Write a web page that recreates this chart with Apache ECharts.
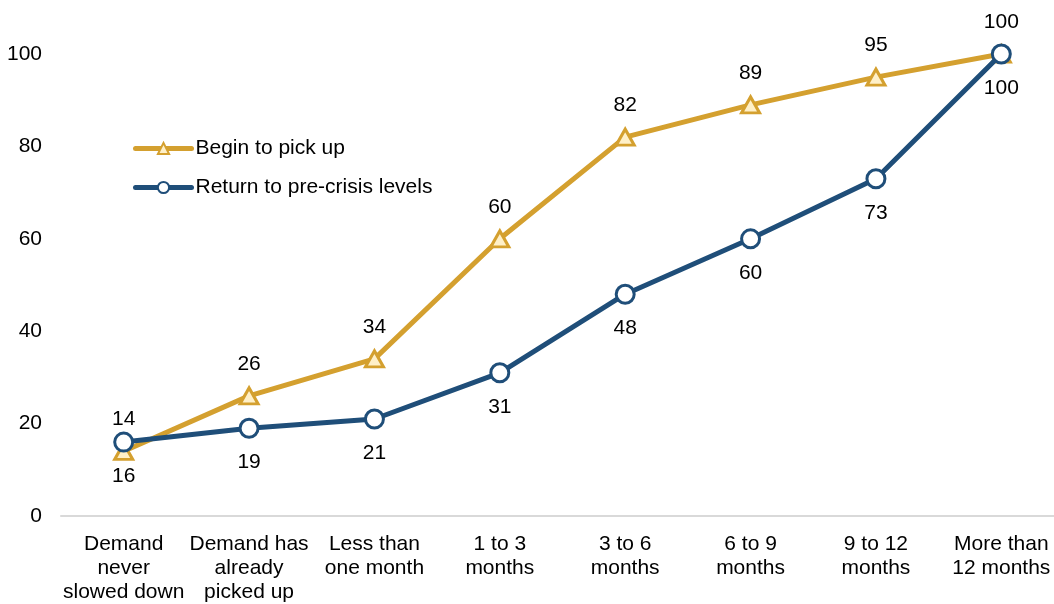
<!DOCTYPE html>
<html>
<head>
<meta charset="utf-8">
<script src="https://cdn.jsdelivr.net/npm/echarts@6/dist/echarts.min.js"></script>
<style>
  html, body { margin: 0; padding: 0; background: #ffffff; overflow: hidden; }
  /* plot area runs slightly past the right edge of the window */
  #chart { width: 1064px; height: 604px; }
</style>
</head>
<body>
<div id="chart"></div>
<script>
// Expected timing of demand recovery (share of respondents, cumulative %)
const categories = [
  'Demand\nnever\nslowed down',
  'Demand has\nalready\npicked up',
  'Less than\none month',
  '1 to 3\nmonths',
  '3 to 6\nmonths',
  '6 to 9\nmonths',
  '9 to 12\nmonths',
  'More than\n12 months'
];
const beginToPickUp = [14, 26, 34, 60, 82, 89, 95, 100];
const returnToPreCrisis = [16, 19, 21, 31, 48, 60, 73, 100];
const yTicks = [0, 20, 40, 60, 80, 100];

const GOLD = '#D4A02F';
const BLUE = '#1F4E79';
const FONT = 'Liberation Sans, Arial, sans-serif';
const FS = 21;

const chart = echarts.init(document.getElementById('chart'));
chart.setOption({
  animation: false,
  backgroundColor: '#ffffff',
  textStyle: { fontFamily: FONT },
  grid: { left: 61, right: 0, top: 54, bottom: 86, containLabel: false },
  legend: {
    orient: 'vertical',
    left: 128,
    top: 133,
    padding: 5,
    itemWidth: 56,
    itemHeight: 14,
    itemGap: 18,
    lineStyle: { width: 5, cap: 'round' },
    textStyle: { fontFamily: FONT, fontSize: FS, color: '#000000', padding: [0, 0, 0, -1] },
    data: ['Begin to pick up', 'Return to pre-crisis levels']
  },
  xAxis: {
    type: 'category',
    data: categories,
    boundaryGap: true,
    axisLine: { show: true, lineStyle: { color: '#D9D9D9', width: 2 } },
    axisTick: { show: false },
    axisLabel: {
      interval: 0,
      color: '#000000',
      fontFamily: FONT,
      fontSize: FS,
      lineHeight: 24,
      margin: 16
    },
    splitLine: { show: false }
  },
  yAxis: {
    type: 'value',
    min: yTicks[0],
    max: yTicks[yTicks.length - 1],
    interval: 20,
    axisLine: { show: false },
    axisTick: { show: false },
    splitLine: { show: false },
    axisLabel: {
      color: '#000000',
      fontFamily: FONT,
      fontSize: FS,
      margin: 19
    }
  },
  series: [
    {
      name: 'Begin to pick up',
      type: 'line',
      data: beginToPickUp,
      symbol: 'triangle',
      symbolSize: [18, 16],
      lineStyle: { color: GOLD, width: 5 },
      itemStyle: { color: '#FFF0C8', borderColor: GOLD, borderWidth: 3 },
      label: {
        show: true,
        position: 'top',
        distance: 12,
        color: '#000000',
        fontFamily: FONT,
        fontSize: FS
      },
      z: 2
    },
    {
      name: 'Return to pre-crisis levels',
      type: 'line',
      data: returnToPreCrisis,
      symbol: 'circle',
      symbolSize: 18,
      lineStyle: { color: BLUE, width: 5 },
      itemStyle: { color: '#ffffff', borderColor: BLUE, borderWidth: 3 },
      label: {
        show: true,
        position: 'bottom',
        distance: 13,
        color: '#000000',
        fontFamily: FONT,
        fontSize: FS
      },
      z: 3
    }
  ]
});
</script>
</body>
</html>
